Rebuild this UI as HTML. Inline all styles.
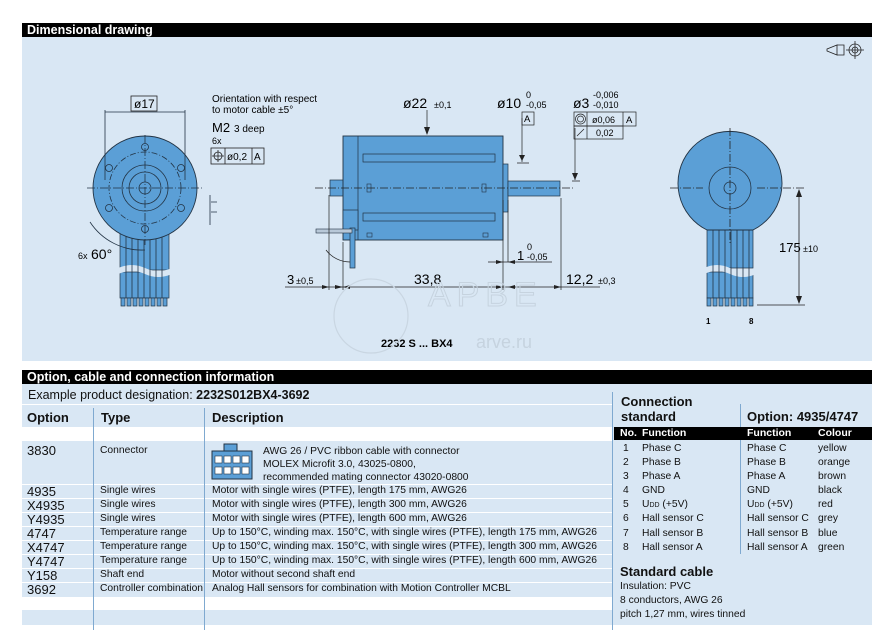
<!DOCTYPE html>
<html><head><meta charset="utf-8"><style>
body{margin:0;background:#fff;width:888px;height:630px;overflow:hidden;position:relative;font-family:"Liberation Sans","DejaVu Sans",sans-serif;color:#111}
.a{position:absolute;white-space:nowrap}
.bar{position:absolute;background:#000;color:#fff;font-weight:bold;font-size:12.5px;line-height:14px;padding-left:5px;box-sizing:border-box}
.bl{position:absolute;background:#d9e7f4}
.s{font-size:10.3px}
.o{font-size:13px}
.sub{font-size:7px;line-height:0}
</style></head><body>
<div class="bar" style="left:22px;top:23px;width:850px;height:14px">Dimensional drawing</div>
<div class="bl" style="left:22px;top:37px;width:850px;height:324px"></div>
<svg class="a" style="left:0;top:0" width="888" height="370" font-family="Liberation Sans, DejaVu Sans, sans-serif">
<g fill="none" stroke="#222" stroke-width="0.8">
<path d="M827 49 L837 45 L837 55 L827 51 Z M837 45 L844 45 L844 55 L837 55"/><circle cx="855" cy="50" r="6"/><circle cx="855" cy="50" r="3"/><path d="M855 41V59M846 50H864"/>
</g>
<g>
<rect x="120" y="232" width="49" height="38" fill="#5b9fd6" stroke="#234" stroke-width="0.7"/>
<rect x="120" y="272" width="49" height="26" fill="#5b9fd6" stroke="#234" stroke-width="0.7"/>
<path d="M118 268 Q132 262 145 268 T172 268 L172 274 Q158 280 145 274 T118 274Z" fill="#d9e7f4"/>
<g stroke="#234" stroke-width="0.8"><path d="M126 232V298M132 232V298M138 232V298M144 232V298M150 232V298M156 232V298M162 232V298"/></g>
<g fill="#5b9fd6" stroke="#234" stroke-width="0.7"><rect x="121" y="298" width="4" height="8"/><rect x="127" y="298" width="4" height="8"/><rect x="133" y="298" width="4" height="8"/><rect x="139" y="298" width="4" height="8"/><rect x="145" y="298" width="4" height="8"/><rect x="151" y="298" width="4" height="8"/><rect x="157" y="298" width="4" height="8"/><rect x="163" y="298" width="4" height="8"/></g>
<circle cx="145" cy="188" r="52" fill="#5b9fd6" stroke="#234" stroke-width="0.9"/>
<g fill="none" stroke="#234" stroke-width="0.8">
<circle cx="145" cy="188" r="36" stroke-dasharray="6 2 1 2"/>
<circle cx="145" cy="188" r="23"/><circle cx="145" cy="188" r="16"/><circle cx="145" cy="188" r="6"/>
<circle cx="145" cy="147" r="3.5"/><circle cx="145" cy="229" r="3.5"/><circle cx="109" cy="168" r="3.5"/><circle cx="181" cy="168" r="3.5"/><circle cx="109" cy="208" r="3.5"/><circle cx="181" cy="208" r="3.5"/>
<path d="M87 188H203M145 135V245" stroke-dasharray="8 2 1 2"/>
<path d="M105 110V180M185 110V180M105 112H185"/>
<path d="M90 222 A62 62 0 0 0 145 250"/>
<path d="M211 202H217M211 212H217M210 195V225"/>
</g>
<rect x="131" y="96" width="26" height="15" fill="none" stroke="#222" stroke-width="0.8"/>
<text x="134" y="108" font-size="12">ø17</text>
<text x="78" y="259" font-size="9">6x</text><text x="91" y="259" font-size="14">60°</text>
<text x="212" y="102" font-size="10">Orientation with respect</text>
<text x="212" y="113" font-size="10">to motor cable ±5°</text>
<text x="212" y="132" font-size="13">M2</text><text x="234" y="132" font-size="10">3 deep</text>
<text x="212" y="144" font-size="9">6x</text>
<g fill="none" stroke="#222" stroke-width="0.8"><rect x="211" y="148" width="53" height="16"/><path d="M225 148V164M252 148V164"/><circle cx="218" cy="156" r="4"/><path d="M212 156H224M218 150V162"/></g>
<text x="227" y="160" font-size="10">ø0,2</text><text x="254" y="160" font-size="10">A</text>
</g>
<g>
<rect x="330" y="180" width="16" height="16" fill="#5b9fd6" stroke="#234" stroke-width="0.7"/>
<rect x="343" y="136" width="160" height="104" fill="#5b9fd6" stroke="#234" stroke-width="0.9"/>
<path d="M358 136V240" stroke="#234" stroke-width="0.7"/>
<rect x="343" y="210" width="15" height="20" fill="#5b9fd6" stroke="#234" stroke-width="0.7"/>
<rect x="350" y="228" width="5" height="40" fill="#5b9fd6" stroke="#234" stroke-width="0.7"/>
<rect x="316" y="229" width="36" height="4" fill="#b8c8d8" stroke="#234" stroke-width="0.6"/>
<rect x="363" y="154" width="132" height="8" fill="#5b9fd6" stroke="#234" stroke-width="0.7"/>
<rect x="363" y="213" width="132" height="8" fill="#5b9fd6" stroke="#234" stroke-width="0.7"/>
<rect x="367" y="184" width="4" height="8" fill="none" stroke="#234" stroke-width="0.6"/>
<rect x="482" y="184" width="4" height="8" fill="none" stroke="#234" stroke-width="0.6"/>
<rect x="367" y="233" width="5" height="4" fill="none" stroke="#234" stroke-width="0.6"/>
<rect x="483" y="233" width="5" height="4" fill="none" stroke="#234" stroke-width="0.6"/>
<rect x="503" y="164" width="5" height="48" fill="#5b9fd6" stroke="#234" stroke-width="0.7"/>
<rect x="508" y="181" width="52" height="15" fill="#5b9fd6" stroke="#234" stroke-width="0.7"/>
<g fill="none" stroke="#222" stroke-width="0.7">
<path d="M315 188H575" stroke-dasharray="8 2 1 2"/>
<path d="M427 110V134M522 118V162M517 163H529M575 128V180M572 181H580"/>
<path d="M329 195V290M343 242V290M503 200V290M508 200V262M561 198V290"/>
<path d="M285 287H600M488 262H552M326 250 A30 30 0 0 0 350 262"/>
</g>
<g fill="#222"><path d="M427 135L424 127H430Z M522 161L519 155H525Z M575 180L572 173H578Z M343 287L335 285V289Z M329 287L322 285V289Z M343 287L350 285V289Z M503 287L496 285V289Z M508 287L515 285V289Z M561 287L554 285V289Z M503 262L496 260V264Z M508 262L515 260V264Z"/></g>
<text x="403" y="108" font-size="14">ø22</text><text x="434" y="108" font-size="9">±0,1</text>
<text x="497" y="108" font-size="14">ø10</text><text x="526" y="98" font-size="9">0</text><text x="526" y="108" font-size="9">-0,05</text>
<rect x="522" y="112" width="12" height="13" fill="none" stroke="#222" stroke-width="0.7"/><text x="524" y="122" font-size="9.5">A</text>
<text x="573" y="108" font-size="14">ø3</text><text x="593" y="98" font-size="9">-0,006</text><text x="593" y="108" font-size="9">-0,010</text>
<g fill="none" stroke="#222" stroke-width="0.7"><rect x="574" y="112" width="62" height="14"/><rect x="574" y="126" width="49" height="13"/><path d="M587 112V139M623 112V126"/><circle cx="580.5" cy="119" r="5"/><circle cx="580.5" cy="119" r="3"/><path d="M577 136L584 129"/></g>
<text x="592" y="123" font-size="9">ø0,06</text><text x="626" y="123" font-size="9.5">A</text><text x="596" y="136" font-size="9">0,02</text>
<text x="287" y="284" font-size="13">3</text><text x="296" y="284" font-size="9">±0,5</text>
<text x="414" y="284" font-size="14">33,8</text>
<text x="517" y="260" font-size="13">1</text><text x="527" y="250" font-size="9">0</text><text x="527" y="260" font-size="9">-0,05</text>
<text x="566" y="284" font-size="14">12,2</text><text x="598" y="284" font-size="9">±0,3</text>
<text x="381" y="347" font-size="11" font-weight="bold">2232 S ... BX4</text>
<g fill="none" stroke="#c9d6e2" stroke-width="1.2"><circle cx="371" cy="316" r="37"/></g>
<text x="428" y="306" font-size="34" fill="none" stroke="#c6d3df" stroke-width="1" letter-spacing="6">APBE</text>
<text x="476" y="348" font-size="18" fill="#c6d3df">arve.ru</text>
</g>
<g>
<rect x="707" y="230" width="46" height="38" fill="#5b9fd6" stroke="#234" stroke-width="0.7"/>
<rect x="707" y="272" width="46" height="26" fill="#5b9fd6" stroke="#234" stroke-width="0.7"/>
<path d="M704 268 Q717 262 730 268 T756 268 L756 274 Q743 280 730 274 T704 274Z" fill="#d9e7f4"/>
<g stroke="#234" stroke-width="0.8"><path d="M713 230V298M719 230V298M725 230V298M731 230V298M737 230V298M743 230V298M749 230V298"/></g>
<g fill="#5b9fd6" stroke="#234" stroke-width="0.7"><rect x="707" y="298" width="4" height="8"/><rect x="713" y="298" width="4" height="8"/><rect x="719" y="298" width="4" height="8"/><rect x="725" y="298" width="4" height="8"/><rect x="731" y="298" width="4" height="8"/><rect x="737" y="298" width="4" height="8"/><rect x="743" y="298" width="4" height="8"/><rect x="749" y="298" width="4" height="8"/></g>
<path d="M707 230 A52 52 0 1 1 753 230Z" fill="#5b9fd6" stroke="#234" stroke-width="0.9"/>
<g fill="none" stroke="#234" stroke-width="0.8"><circle cx="730" cy="188" r="21"/><circle cx="730" cy="188" r="6"/>
<path d="M670 188H703M757 188H805M730 128V245" stroke-dasharray="8 2 1 2" stroke="#222"/>
<path d="M757 305H805M799 190V303" stroke="#222"/></g>
<g fill="#222"><path d="M799 189L796 197H802Z M799 304L796 296H802Z"/></g>
<text x="779" y="252" font-size="13">175</text><text x="803" y="252" font-size="9">±10</text>
<text x="706" y="324" font-size="8" font-weight="bold">1</text><text x="749" y="324" font-size="8" font-weight="bold">8</text>
</g>
</svg>

<div class="bar" style="left:22px;top:370px;width:850px;height:14px">Option, cable and connection information</div>
<div class="bl" style="left:22px;top:384px;width:850px;height:43px"></div>
<div class="bl" style="left:22px;top:441px;width:850px;height:156px"></div>
<div class="bl" style="left:22px;top:610px;width:850px;height:15px"></div>
<div class="bl" style="left:612px;top:384px;width:260px;height:241px"></div>
<div class="a" style="left:22px;top:404px;width:590px;height:1px;background:#fff"></div>
<div class="a" style="left:22px;top:484px;width:590px;height:1px;background:#fff"></div>
<div class="a" style="left:22px;top:498px;width:590px;height:1px;background:#fff"></div>
<div class="a" style="left:22px;top:512px;width:590px;height:1px;background:#fff"></div>
<div class="a" style="left:22px;top:526px;width:590px;height:1px;background:#fff"></div>
<div class="a" style="left:22px;top:540px;width:590px;height:1px;background:#fff"></div>
<div class="a" style="left:22px;top:554px;width:590px;height:1px;background:#fff"></div>
<div class="a" style="left:22px;top:568px;width:590px;height:1px;background:#fff"></div>
<div class="a" style="left:22px;top:582px;width:590px;height:1px;background:#fff"></div>
<div class="a" style="left:93px;top:408px;width:1px;height:222px;background:#7fa9d0"></div>
<div class="a" style="left:204px;top:408px;width:1px;height:222px;background:#7fa9d0"></div>
<div class="a" style="left:612px;top:392px;width:1px;height:238px;background:#7fa9d0"></div>
<div class="a" style="left:740px;top:404px;width:1px;height:150px;background:#7fa9d0"></div>

<div class="a" style="left:28px;top:388px;font-size:12.5px">Example product designation: <b>2232S012BX4-3692</b></div>
<div class="a" style="left:27px;top:410px;font-size:13px;font-weight:bold">Option</div>
<div class="a" style="left:101px;top:410px;font-size:13px;font-weight:bold">Type</div>
<div class="a" style="left:212px;top:410px;font-size:13px;font-weight:bold">Description</div>

<div class="a o" style="left:27px;top:443px">3830</div>
<div class="a s" style="left:100px;top:445px">Connector</div>
<svg class="a" style="left:211px;top:443px" width="45" height="38"><rect x="13" y="1" width="13" height="8" fill="#5b9fd6" stroke="#234"/><rect x="1" y="8" width="40" height="28" fill="#5b9fd6" stroke="#234"/><g fill="#fff" stroke="#234" stroke-width="0.6"><rect x="4" y="13" width="7" height="7"/><rect x="13" y="13" width="7" height="7"/><rect x="22" y="13" width="7" height="7"/><rect x="31" y="13" width="7" height="7"/><rect x="4" y="24" width="7" height="7"/><rect x="13" y="24" width="7" height="7"/><rect x="22" y="24" width="7" height="7"/><rect x="31" y="24" width="7" height="7"/></g></svg>
<div class="a s" style="left:263px;top:445px;line-height:13px">AWG 26 / PVC ribbon cable with connector<br>MOLEX Microfit 3.0, 43025-0800,<br>recommended mating connector 43020-0800</div>

<div class="a o" style="left:27px;top:484px">4935</div><div class="a s" style="left:100px;top:485px">Single wires</div><div class="a s" style="left:212px;top:485px">Motor with single wires (PTFE), length 175 mm, AWG26</div>
<div class="a o" style="left:27px;top:498px">X4935</div><div class="a s" style="left:100px;top:499px">Single wires</div><div class="a s" style="left:212px;top:499px">Motor with single wires (PTFE), length 300 mm, AWG26</div>
<div class="a o" style="left:27px;top:512px">Y4935</div><div class="a s" style="left:100px;top:513px">Single wires</div><div class="a s" style="left:212px;top:513px">Motor with single wires (PTFE), length 600 mm, AWG26</div>
<div class="a o" style="left:27px;top:526px">4747</div><div class="a s" style="left:100px;top:527px">Temperature range</div><div class="a s" style="left:212px;top:527px">Up to 150°C, winding max. 150°C, with single wires (PTFE), length 175 mm, AWG26</div>
<div class="a o" style="left:27px;top:540px">X4747</div><div class="a s" style="left:100px;top:541px">Temperature range</div><div class="a s" style="left:212px;top:541px">Up to 150°C, winding max. 150°C, with single wires (PTFE), length 300 mm, AWG26</div>
<div class="a o" style="left:27px;top:554px">Y4747</div><div class="a s" style="left:100px;top:555px">Temperature range</div><div class="a s" style="left:212px;top:555px">Up to 150°C, winding max. 150°C, with single wires (PTFE), length 600 mm, AWG26</div>
<div class="a o" style="left:27px;top:568px">Y158</div><div class="a s" style="left:100px;top:569px">Shaft end</div><div class="a s" style="left:212px;top:569px">Motor without second shaft end</div>
<div class="a o" style="left:27px;top:582px">3692</div><div class="a s" style="left:100px;top:583px">Controller combination</div><div class="a s" style="left:212px;top:583px">Analog Hall sensors for combination with Motion Controller MCBL</div>

<div class="a" style="left:621px;top:394px;font-size:13px;font-weight:bold;line-height:15px">Connection<br>standard</div>
<div class="a" style="left:747px;top:409px;font-size:13px;font-weight:bold">Option: 4935/4747</div>
<div class="a" style="left:614px;top:427px;width:258px;height:13px;background:#000"></div>
<div class="a" style="left:620px;top:427px;font-size:10.5px;font-weight:bold;color:#fff">No.</div>
<div class="a" style="left:642px;top:427px;font-size:10.5px;font-weight:bold;color:#fff">Function</div>
<div class="a" style="left:747px;top:427px;font-size:10.5px;font-weight:bold;color:#fff">Function</div>
<div class="a" style="left:818px;top:427px;font-size:10.5px;font-weight:bold;color:#fff">Colour</div>
<div class="a s" style="left:623px;top:442px;line-height:14.1px">1<br>2<br>3<br>4<br>5<br>6<br>7<br>8</div>
<div class="a s" style="left:642px;top:442px;line-height:14.1px">Phase C<br>Phase B<br>Phase A<br>GND<br>U<span class="sub">DD</span> (+5V)<br>Hall sensor C<br>Hall sensor B<br>Hall sensor A</div>
<div class="a s" style="left:747px;top:442px;line-height:14.1px">Phase C<br>Phase B<br>Phase A<br>GND<br>U<span class="sub">DD</span> (+5V)<br>Hall sensor C<br>Hall sensor B<br>Hall sensor A</div>
<div class="a s" style="left:818px;top:442px;line-height:14.1px">yellow<br>orange<br>brown<br>black<br>red<br>grey<br>blue<br>green</div>
<div class="a" style="left:620px;top:564px;font-size:13px;font-weight:bold">Standard cable</div>
<div class="a s" style="left:620px;top:580px;line-height:14px">Insulation: PVC<br>8 conductors, AWG 26<br>pitch 1,27 mm, wires tinned</div>
</body></html>
